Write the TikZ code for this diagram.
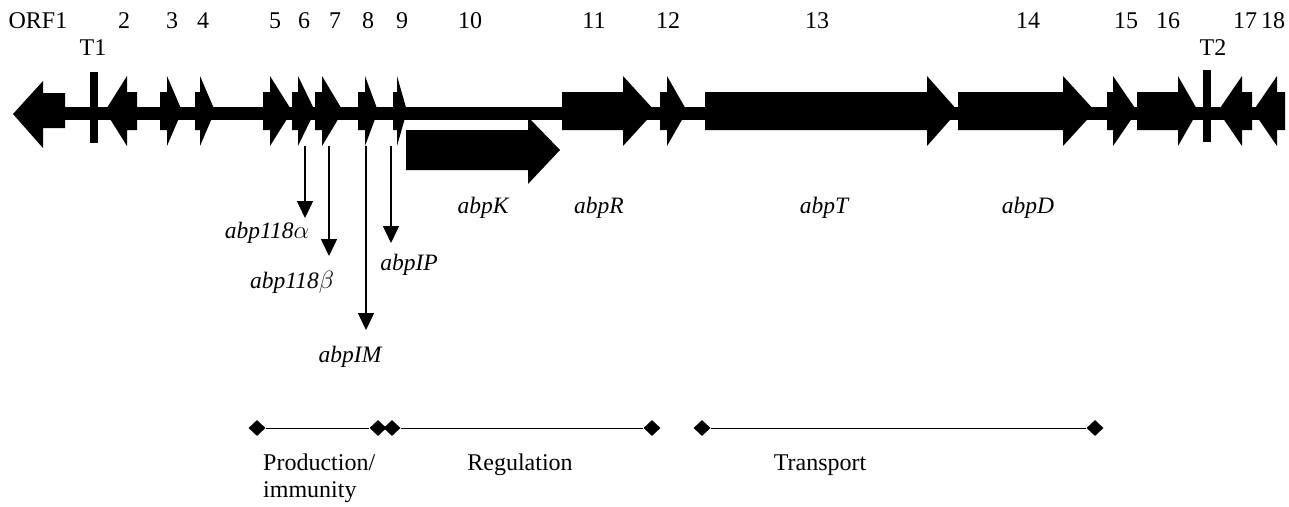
\documentclass[tikz,border=0pt]{standalone}
\usepackage{fontspec}
\setmainfont{Liberation Serif}
\usetikzlibrary{arrows.meta,shapes.geometric}

% right-pointing gene: body start, head start, tip
\newcommand\generight[3]{%
  \fill (#1,92) -- (#2,92) -- (#2,76) -- (#3,111) -- (#2,146) -- (#2,130) -- (#1,130) -- cycle;}
% left-pointing gene: tip, head end, body end
\newcommand\geneleft[3]{%
  \fill (#1,111) -- (#2,76) -- (#2,92) -- (#3,92) -- (#3,130) -- (#2,130) -- (#2,146) -- cycle;}

\begin{document}
\begin{tikzpicture}[x=1pt,y=-1pt,
  lbl/.style={font=\fontsize{24}{28}\selectfont, inner sep=0pt, anchor=base},
  gname/.style={lbl, font=\fontsize{23.5}{28}\selectfont\itshape},
  pointer/.style={line width=1.5pt, -{Triangle[width=16pt,length=17pt]}},
  endmark/.style={diamond, fill=black, inner sep=0pt, minimum width=17pt, minimum height=16pt},
  span/.style={line width=1pt}]
\useasboundingbox (0,0) rectangle (1289,506);

% backbone
\fill (60,107) rectangle (1285,120);

% terminators
\fill (90,72) rectangle (98,143);
\fill (1203,70) rectangle (1211,142);

% ORF1
\fill (13,114) -- (43,81) -- (43,93) -- (65,93) -- (65,128) -- (43,128) -- (43,148) -- cycle;
% ORF2
\geneleft{105}{127}{137}
% ORF3 .. ORF9
\generight{160}{167}{182}
\generight{195}{200}{215}
\generight{263}{270}{292}
\generight{292}{298}{315}
\generight{315}{322}{343}
\generight{358}{365}{378}
\generight{393}{397}{407}
% abpK (opposite strand offset)
\fill (406,130) -- (528,130) -- (528,117) -- (560,150) -- (528,184) -- (528,170) -- (406,170) -- cycle;
% abpR, ORF12, abpT, abpD, ORF15, ORF16
\generight{562}{623}{655}
\generight{660}{667}{687}
\generight{705}{927}{958}
\generight{958}{1063}{1095}
\generight{1107}{1113}{1137}
\generight{1137}{1178}{1198}
% ORF17, ORF18
\geneleft{1218}{1242}{1252}
\geneleft{1253}{1277}{1285}

% ORF numbers
\node[lbl] (n1) at (38,28) {ORF1};
\node[lbl] (t1) at (93,55) {T1};
\node[lbl] (n2) at (124,28) {2};
\node[lbl] (n3) at (172,28) {3};
\node[lbl] (n4) at (203,28) {4};
\node[lbl] (n5) at (275,28) {5};
\node[lbl] (n6) at (304,28) {6};
\node[lbl] (n7) at (335,28) {7};
\node[lbl] (n8) at (368,28) {8};
\node[lbl] (n9) at (402,28) {9};
\node[lbl] (n10) at (470,28) {10};
\node[lbl] (n11) at (594,28) {11};
\node[lbl] (n12) at (668,28) {12};
\node[lbl] (n13) at (817,28) {13};
\node[lbl] (n14) at (1028,28) {14};
\node[lbl] (n15) at (1126,28) {15};
\node[lbl] (n16) at (1168,28) {16};
\node[lbl] (n17) at (1245,28) {17};
\node[lbl] (n18) at (1273,28) {18};
\node[lbl] (t2) at (1213,55) {T2};

% gene names
\node[gname] (abpK) at (483,213) {abpK};
\node[gname] (abpR) at (599,213) {abpR};
\node[gname] (abpT) at (824,213) {abpT};
\node[gname] (abpD) at (1028,213) {abpD};
\node[gname] (a118a) at (267,238) {abp118$\alpha$};
\node[gname] (a118b) at (292,288) {abp118$\beta$};
\node[gname] (abpIP) at (409,270) {abpIP};
\node[gname] (abpIM) at (350,362) {abpIM};

% pointers from small genes to their names
\coordinate (g6) at (305,146);  \coordinate (e6) at (305,218);
\coordinate (g7) at (329,146);  \coordinate (e7) at (329,256);
\coordinate (g8) at (366,146);  \coordinate (e8) at (366,330);
\coordinate (g9) at (391,146);  \coordinate (e9) at (391,243);
\draw[pointer] (g6) -- (e6);
\draw[pointer] (g7) -- (e7);
\draw[pointer] (g8) -- (e8);
\draw[pointer] (g9) -- (e9);

% functional groups
\node[endmark] (p1) at (257,428) {};
\node[endmark] (p2) at (378,428) {};
\node[endmark] (r1) at (392,428) {};
\node[endmark] (r2) at (652,428) {};
\node[endmark] (s1) at (702,428) {};
\node[endmark] (s2) at (1095,428) {};
\draw[span] (p1) -- (p2);
\draw[span] (r1) -- (r2);
\draw[span] (s1) -- (s2);

\node[lbl, anchor=base west] (prod) at (263,470) {Production/};
\node[lbl, anchor=base west] (immu) at (263,497) {immunity};
\node[lbl] (reg) at (520,470) {Regulation};
\node[lbl] (trans) at (820,470) {Transport};
\end{tikzpicture}
\end{document}
